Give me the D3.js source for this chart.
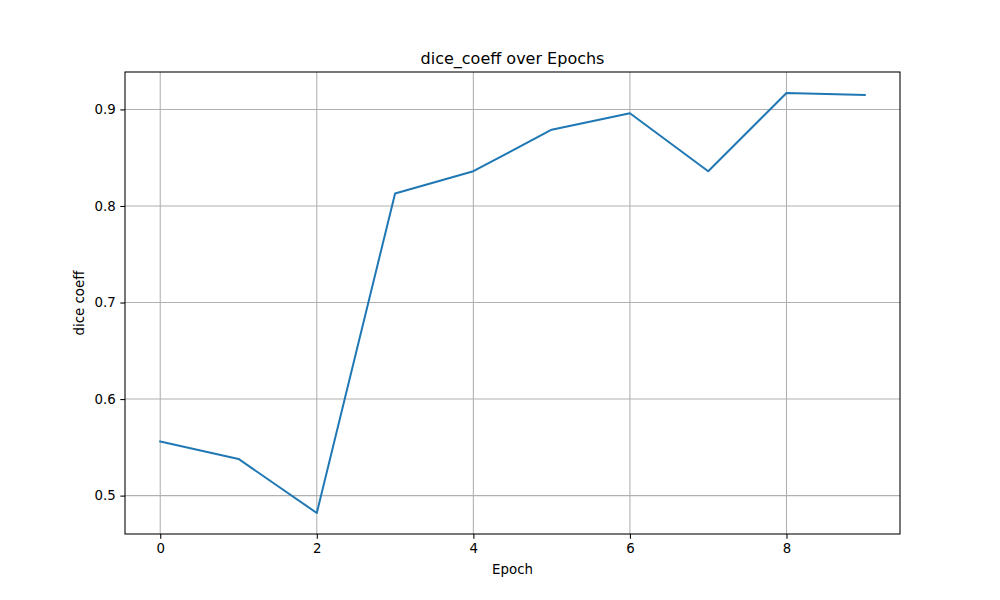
<!DOCTYPE html>
<html>
<head>
<meta charset="utf-8">
<script src="https://cdn.jsdelivr.net/npm/d3@7"></script>
<style>
  body { margin: 0; background: #fff; }
  svg text { font-family: "DejaVu Sans", sans-serif; fill: #000; }
</style>
</head>
<body>
<div id="chart"></div>
<script>
'use strict';

// Data
var epochs = [0, 1, 2, 3, 4, 5, 6, 7, 8, 9];
var diceCoeff = [0.556, 0.538, 0.482, 0.813, 0.836, 0.879, 0.896, 0.836, 0.917, 0.915];
var xTicks = [0, 2, 4, 6, 8];
var yTicks = [0.5, 0.6, 0.7, 0.8, 0.9];

var width = 1000, height = 600;
var margin = { left: 125, right: 100, top: 72, bottom: 66 };
var innerW = width - margin.left - margin.right;
var innerH = height - margin.top - margin.bottom;

var svg = d3.select('#chart').append('svg')
  .attr('width', width)
  .attr('height', height);

// matplotlib-style 5% padding on both axes
var xMin = d3.min(epochs), xMax = d3.max(epochs);
var xPad = (xMax - xMin) * 0.05;
var yMin = d3.min(diceCoeff), yMax = d3.max(diceCoeff);
var yPad = (yMax - yMin) * 0.05;

var x = d3.scaleLinear().domain([xMin - xPad, xMax + xPad]).range([0, innerW]);
var y = d3.scaleLinear().domain([yMin - yPad, yMax + yPad]).range([innerH, 0]);

var g = svg.append('g').attr('transform', 'translate(' + margin.left + ',' + margin.top + ')');

// Grid
g.append('g').selectAll('line').data(xTicks).enter().append('line')
  .attr('x1', function(d) { return x(d); }).attr('x2', function(d) { return x(d); })
  .attr('y1', 0).attr('y2', innerH)
  .attr('stroke', '#b0b0b0').attr('stroke-width', 1.07);
g.append('g').selectAll('line').data(yTicks).enter().append('line')
  .attr('y1', function(d) { return y(d); }).attr('y2', function(d) { return y(d); })
  .attr('x1', 0).attr('x2', innerW)
  .attr('stroke', '#b0b0b0').attr('stroke-width', 1.07);

// Line
var line = d3.line()
  .x(function(d, i) { return x(epochs[i]); })
  .y(function(d) { return y(d); });
g.append('path').datum(diceCoeff)
  .attr('d', line)
  .attr('fill', 'none')
  .attr('stroke', '#1f77b4')
  .attr('stroke-width', 2)
  .attr('stroke-linejoin', 'round')
  .attr('stroke-linecap', 'square');

// Axes
var xAxis = d3.axisBottom(x).tickValues(xTicks).tickSize(4.67).tickPadding(4.67).tickFormat(d3.format('d'));
var yAxis = d3.axisLeft(y).tickValues(yTicks).tickSize(4.67).tickPadding(4.67).tickFormat(d3.format('.1f'));

var gx = g.append('g').attr('transform', 'translate(0,' + innerH + ')').call(xAxis);
var gy = g.append('g').call(yAxis);
[gx, gy].forEach(function(a) {
  a.select('.domain').remove();
  a.selectAll('line').attr('stroke', '#000').attr('stroke-width', 1.07);
  a.selectAll('text').attr('font-size', '13.33px').attr('font-family', '"DejaVu Sans", sans-serif').attr('fill', '#000');
});

// Spines
g.append('rect')
  .attr('x', 0).attr('y', 0).attr('width', innerW).attr('height', innerH)
  .attr('fill', 'none').attr('stroke', '#000').attr('stroke-width', 1.07);

// Title and labels
svg.append('text')
  .attr('x', margin.left + innerW / 2).attr('y', margin.top - 8)
  .attr('text-anchor', 'middle').attr('font-size', '16px')
  .text('dice_coeff over Epochs');
svg.append('text')
  .attr('x', margin.left + innerW / 2).attr('y', 574)
  .attr('text-anchor', 'middle').attr('font-size', '13.33px')
  .text('Epoch');
svg.append('text')
  .attr('transform', 'translate(84,' + (margin.top + innerH / 2) + ') rotate(-90)')
  .attr('text-anchor', 'middle').attr('font-size', '13.33px')
  .text('dice coeff');
</script>
</body>
</html>
